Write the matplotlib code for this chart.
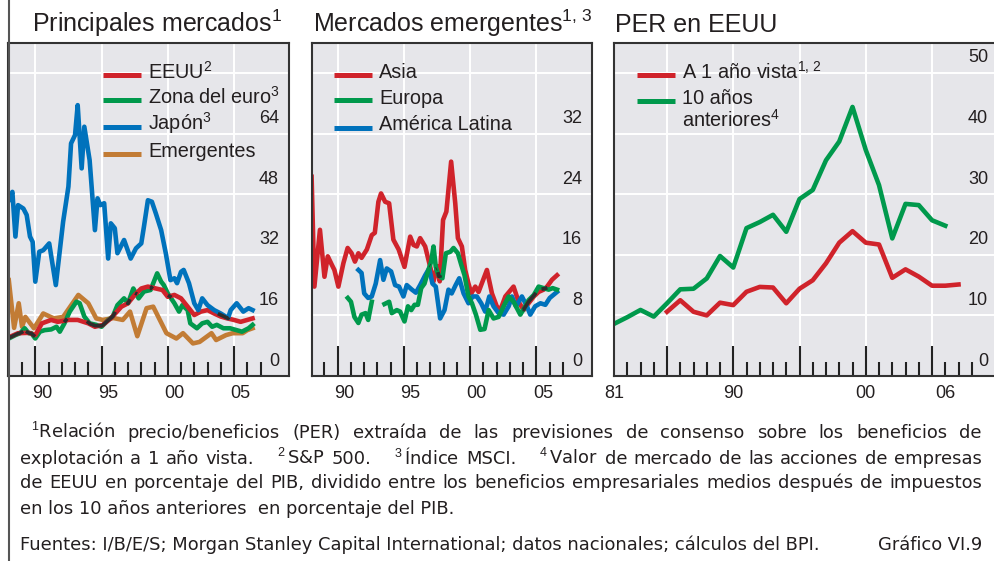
import numpy as np
import matplotlib
matplotlib.use("Agg")
import matplotlib.pyplot as plt
from matplotlib import transforms
from matplotlib.lines import Line2D

plt.rcParams.update({
    'font.family': ['Liberation Sans', 'DejaVu Sans'],
    'mathtext.fontset': 'custom',
    'mathtext.rm': 'Liberation Sans',
    'mathtext.it': 'Liberation Sans:italic',
    'mathtext.bf': 'Liberation Sans:bold',
    'mathtext.sf': 'Liberation Sans',
})

# ---------------- data ----------------
# Panel 1: Principales mercados
jp_years = [1988.0, 1988.27, 1988.5, 1988.7, 1989.1, 1989.35, 1989.6, 1989.8, 1990.0, 1990.3,
            1990.6, 1991.05, 1991.55, 1992.1, 1992.5, 1992.7, 1993.0, 1993.2, 1993.5, 1993.7,
            1994.1, 1994.5, 1994.7, 1994.9, 1995.2, 1995.5, 1995.7, 1996.0, 1996.2, 1996.7,
            1997.2, 1997.6, 1998.0, 1998.2, 1998.5, 1998.8, 1999.1, 1999.5, 1999.85, 2000.2,
            2000.5, 2000.7, 2001.0, 2001.2, 2001.6, 2002.0, 2002.3, 2002.6, 2003.0, 2003.5,
            2004.0, 2004.55, 2004.75, 2005.2, 2005.7, 2006.1, 2006.4]
jp_vals = [46.4, 48.6, 36.8, 45.1, 44.2, 42.5, 36.8, 35.4, 24.9, 32.8,
           33.2, 35.0, 24.0, 40.7, 50.0, 61.4, 63.6, 71.5, 54.8, 65.8,
           57.0, 38.5, 46.9, 45.1, 45.6, 31.0, 40.3, 39.0, 32.4, 35.9,
           31.0, 33.7, 35.0, 39.4, 46.4, 46.0, 42.9, 38.5, 32.4, 25.3,
           25.8, 24.5, 27.5, 28.0, 24.5, 19.2, 17.4, 20.5, 18.7, 17.4,
           16.5, 15.3, 17.4, 19.2, 17.0, 17.9, 17.4]

us_years = [1988.0, 1988.7, 1989.5, 1990.0, 1990.5, 1991.2, 1991.7, 1992.5, 1993.2, 1994.0,
            1994.5, 1995.1, 1995.7, 1996.5, 1997.0, 1997.5, 1998.0, 1998.5, 1999.1, 1999.6,
            2000.0, 2000.5, 2001.0, 2001.5, 2002.0, 2002.5, 2003.0, 2003.5, 2004.0, 2004.5,
            2005.0, 2005.5, 2006.0, 2006.4]
us_vals = [10.2, 11.3, 11.4, 10.8, 13.9, 14.8, 14.3, 14.8, 14.8, 13.9,
           13.0, 13.5, 15.2, 18.3, 19.2, 21.4, 23.1, 23.6, 23.1, 22.7,
           20.9, 21.4, 20.5, 18.3, 16.1, 17.0, 17.4, 16.5, 15.7, 15.2,
           14.8, 14.3, 14.8, 15.2]

eu_years = [1988.0, 1988.5, 1988.85, 1989.2, 1989.5, 1989.7, 1990.0, 1990.35, 1990.7, 1991.2,
            1991.6, 1991.85, 1992.2, 1992.6, 1993.1, 1993.35, 1993.7, 1994.1, 1994.6, 1995.0,
            1995.5, 1995.85, 1996.2, 1996.7, 1997.0, 1997.4, 1997.8, 1998.2, 1998.7, 1999.2,
            1999.5, 1999.7, 2000.0, 2000.5, 2000.85, 2001.1, 2001.5, 2001.7, 2002.2, 2002.6,
            2003.0, 2003.35, 2003.7, 2004.2, 2004.7, 2005.2, 2005.6, 2006.1, 2006.4]
eu_vals = [9.9, 10.8, 11.3, 12.6, 11.3, 11.3, 9.9, 11.7, 12.1, 12.3,
           13.0, 11.7, 13.9, 17.0, 19.6, 19.2, 15.7, 13.9, 13.5, 13.0,
           14.8, 15.7, 18.7, 20.5, 19.2, 23.1, 20.5, 22.3, 22.7, 27.1,
           24.9, 24.0, 21.8, 19.2, 17.0, 18.7, 17.4, 13.9, 12.6, 13.9,
           14.3, 13.0, 13.5, 12.6, 12.6, 12.1, 11.7, 12.6, 13.5]

em_years = [1988.0, 1988.4, 1988.75, 1989.0, 1989.25, 1989.9, 1990.6, 1991.4, 1992.1, 1993.25,
            1994.0, 1994.6, 1995.1, 1995.9, 1996.6, 1997.15, 1997.7, 1998.4, 1998.9, 1999.4,
            1999.9, 2000.65, 2001.15, 2001.9, 2002.4, 2003.3, 2003.65, 2004.4, 2004.9, 2005.65,
            2006.0, 2006.4]
em_vals = [25.3, 12.7, 19.2, 13.0, 15.6, 12.6, 16.5, 15.2, 15.6, 21.4,
           19.2, 15.2, 14.8, 15.3, 14.8, 17.0, 10.5, 17.9, 18.3, 14.8,
           11.3, 9.9, 11.3, 8.6, 9.0, 11.3, 9.5, 10.8, 11.3, 11.3,
           12.1, 12.6]

# Panel 2: Mercados emergentes
asia_years = [1988.03, 1988.24, 1988.66, 1989.0, 1989.25, 1989.55, 1989.75, 1990.05, 1990.43, 1990.75,
              1991.05, 1991.3, 1991.56, 1991.8, 1992.2, 1992.57, 1992.8, 1993.07, 1993.27, 1993.58,
              1993.88, 1994.2, 1994.6, 1995.04, 1995.47, 1995.72, 1995.97, 1996.22, 1996.6, 1996.98,
              1997.23, 1997.5, 1997.7, 1997.95, 1998.2, 1998.56, 1998.87, 1999.07, 1999.37, 1999.62,
              1999.87, 2000.08, 2000.38, 2000.63, 2001.26, 2001.64, 2002.0, 2002.27, 2002.65, 2003.27,
              2003.65, 2004.03, 2004.4, 2004.8, 2005.16, 2005.54, 2005.8, 2006.17, 2006.55]
asia_vals = [26.3, 11.8, 19.3, 13.1, 15.8, 14.7, 14.0, 11.8, 14.9, 16.9,
             16.2, 15.1, 16.2, 15.6, 16.7, 18.6, 18.9, 23.0, 24.1, 23.0,
             22.8, 18.0, 16.7, 14.4, 18.4, 17.3, 17.1, 18.2, 17.1, 14.4,
             12.5, 14.5, 12.5, 20.6, 21.7, 28.3, 22.8, 18.2, 17.1, 14.0,
             12.2, 10.9, 11.8, 11.1, 14.0, 10.9, 9.2, 8.7, 10.5, 11.8,
             9.8, 8.7, 9.6, 10.5, 11.1, 11.4, 11.8, 12.7, 13.3]

eur_years = [1990.76, 1991.0, 1991.26, 1991.56, 1991.8, 1992.1, 1992.3, 1992.57, 1993.0,
             1993.53, 1993.88, 1994.08, 1994.46, 1994.71, 1995.04, 1995.3, 1995.55, 1995.8, 1996.05,
             1996.3, 1996.55, 1996.85, 1997.05, 1997.23, 1997.4, 1997.6, 1997.9, 1998.16, 1998.5,
             1998.74, 1999.07, 1999.32, 1999.57, 1999.87, 2000.13, 2000.43, 2000.76, 2001.08, 2001.39,
             2001.76, 2002.14, 2002.52, 2002.9, 2003.27, 2003.78, 2004.15, 2004.4, 2004.8, 2005.16,
             2005.54, 2005.92, 2006.22, 2006.55]
eur_vals = [10.3, 9.8, 7.8, 7.0, 8.1, 8.3, 7.4, 9.8, np.nan,
            9.5, 9.8, 8.3, 8.7, 8.5, 7.2, 9.2, 8.7, 9.4, 9.4,
            11.6, 12.2, 14.0, 15.1, 17.1, 14.4, 13.3, 12.9, 16.2, 16.4,
            16.9, 16.2, 14.7, 13.3, 10.5, 9.6, 8.1, 6.1, 6.2, 8.7,
            7.6, 7.8, 9.2, 10.5, 9.8, 8.1, 9.2, 10.0, 10.7, 11.8,
            11.6, 11.4, 11.6, 11.4]

lat_years = [1991.56, 1991.8, 1992.0, 1992.3, 1992.57, 1992.87, 1993.2, 1993.45, 1993.7, 1994.03,
             1994.33, 1994.63, 1994.96, 1995.21, 1995.6, 1995.9, 1996.22, 1996.6, 1996.9, 1997.15,
             1997.4, 1997.73, 1998.06, 1998.36, 1998.6, 1998.9, 1999.17, 1999.5, 1999.87, 2000.18,
             2000.5, 2000.83, 2001.13, 2001.44, 2001.76, 2002.14, 2002.52, 2002.9, 2003.15, 2003.45,
             2003.9, 2004.28, 2004.53, 2004.9, 2005.3, 2005.67, 2006.0, 2006.55]
lat_vals = [14.0, 13.6, 10.9, 10.3, 10.5, 12.2, 15.3, 12.7, 14.2, 13.8,
            12.0, 11.8, 10.5, 12.0, 11.4, 11.0, 12.0, 13.3, 14.2, 12.2,
            11.8, 7.6, 8.7, 11.4, 10.9, 12.0, 12.9, 10.9, 9.6, 10.5,
            10.5, 9.6, 8.5, 10.5, 9.2, 8.3, 8.1, 9.2, 10.5, 9.2,
            10.5, 9.2, 8.1, 9.2, 9.6, 9.4, 10.3, 11.1]

# Panel 3: PER en EEUU (annual)
per10_years = list(range(1981, 2007))
per10_vals = [8.6, 9.7, 10.9, 9.8, 12.0, 14.3, 14.4, 16.1, 19.8, 17.9,
              24.4, 25.4, 26.6, 23.8, 29.2, 30.7, 35.6, 38.7, 44.4, 37.3,
              31.5, 22.7, 28.4, 28.2, 25.7, 24.8]
per1_years = list(range(1985, 2008))
per1_vals = [10.6, 12.5, 10.6, 10.0, 12.1, 11.7, 13.9, 14.7, 14.6, 12.0,
             14.4, 15.8, 18.6, 22.0, 23.9, 22.0, 21.7, 16.2, 17.6, 16.4,
             14.9, 14.9, 15.1]

# tick labels
p1_yticks = [0, 16, 32, 48, 64]
p2_yticks = [0, 8, 16, 24, 32]
p3_yticks = [0, 10, 20, 30, 40, 50]
p12_xlabels = ['90', '95', '00', '05']
p3_xlabels = ['81', '90', '00', '06']

# ---------------- style ----------------
W, H = 994, 561
BG = '#e6e6ea'
TXT = '#231f20'
RED = '#d0232b'
GREEN = '#00994c'
BLUE = '#0072bc'
ORANGE = '#c27c35'
DARK = '#2d2d2d'
LW = 3.3

fig = plt.figure(figsize=(W / 100, H / 100), dpi=100)


def rect(l, r, t, b):
    return [l / W, 1 - b / H, (r - l) / W, (b - t) / H]


def setup(ax, xlim, ylim, ygrid, xmaj, xmin):
    ax.set_facecolor(BG)
    ax.set_xlim(*xlim)
    ax.set_ylim(*ylim)
    ax.set_xticks(xmaj)
    ax.set_xticks(xmin, minor=True)
    ax.set_yticks(ygrid)
    ax.tick_params(axis='x', which='major', direction='in', length=21.5, width=1.5,
                   color='#222222', labelbottom=False)
    ax.tick_params(axis='x', which='minor', direction='in', length=10, width=1.5,
                   color='#222222', labelbottom=False)
    ax.tick_params(axis='y', length=0, labelleft=False)
    ax.grid(True, which='major', color='white', lw=1.4)
    ax.set_axisbelow(True)
    for s in ax.spines.values():
        s.set_color('#333333')
        s.set_linewidth(1.5)


def ylabels(ax, vals):
    tr = transforms.offset_copy(ax.get_yaxis_transform(), fig=fig, x=-10, y=15, units='dots')
    for v in vals:
        ax.text(1, v, str(v), transform=tr, ha='right', va='center', fontsize=13, color=TXT)


def xlabels(ax, pos, labs):
    tr = transforms.offset_copy(ax.get_xaxis_transform(), fig=fig, x=0, y=-17, units='dots')
    for p, l in zip(pos, labs):
        ax.text(p, 0, l, transform=tr, ha='center', va='center', fontsize=13, color=TXT)


def legend(entries, x0, x1, xt, ys, yb):
    for (lab, col), y, b in zip(entries, ys, yb):
        if col is not None:
            fig.add_artist(Line2D([x0 / W, x1 / W], [1 - y / H] * 2, color=col, lw=3.6,
                                  solid_capstyle='butt', transform=fig.transFigure))
        fig.text(xt / W, 1 - b / H, lab, ha='left', va='baseline', fontsize=14.3, color=TXT)


def overlaps(ax, series, ppu, thr=3.2):
    """Dark tint where two coloured lines lie on top of each other (as in the print)."""
    for i in range(len(series)):
        for j in range(i + 1, len(series)):
            xa, ya = np.asarray(series[i][0], float), np.asarray(series[i][1], float)
            xb, yb = np.asarray(series[j][0], float), np.asarray(series[j][1], float)
            lo, hi = max(xa.min(), xb.min()), min(xa.max(), xb.max())
            if hi <= lo:
                continue
            g = np.arange(lo, hi, 0.01)
            a = np.interp(g, xa, ya)
            b = np.interp(g, xb, yb)
            m = np.abs(a - b) * ppu < thr
            ax.plot(g, np.where(m, (a + b) / 2, np.nan), color=DARK, lw=LW * 0.8,
                    solid_capstyle='butt', zorder=3)


# ---- Panel 1
ax1 = fig.add_axes(rect(8, 289, 43, 376))
setup(ax1, (1987.94, 2009.15), (0, 87.9), [16, 32, 48, 64, 80],
      [1990, 1995, 2000, 2005], [y for y in range(1989, 2008) if y % 5])
ax1.plot(em_years, em_vals, color=ORANGE, lw=LW)
ax1.plot(eu_years, eu_vals, color=GREEN, lw=LW)
ax1.plot(us_years, us_vals, color=RED, lw=LW)
ax1.plot(jp_years, jp_vals, color=BLUE, lw=LW)
overlaps(ax1, [(us_years, us_vals), (eu_years, eu_vals), (jp_years, jp_vals)], 333 / 87.9)
ylabels(ax1, p1_yticks)
xlabels(ax1, [1990.5, 1995.5, 2000.5, 2005.5], p12_xlabels)

# ---- Panel 2
ax2 = fig.add_axes(rect(312, 592, 43, 376))
setup(ax2, (1988.06, 2009.19), (0, 43.96), [8, 16, 24, 32, 40],
      [1990, 1995, 2000, 2005], [y for y in range(1989, 2008) if y % 5])
ax2.plot(asia_years, asia_vals, color=RED, lw=LW)
ax2.plot(lat_years, lat_vals, color=BLUE, lw=LW)
ax2.plot(eur_years, eur_vals, color=GREEN, lw=LW)
overlaps(ax2, [(asia_years, asia_vals), (eur_years, eur_vals)], 333 / 43.96)
ylabels(ax2, p2_yticks)
xlabels(ax2, [1990.5, 1995.5, 2000.5, 2005.5], p12_xlabels)

# ---- Panel 3
ax3 = fig.add_axes(rect(614, 998, 43, 376))
setup(ax3, (1981.0, 2009.98), (0, 54.95), [10, 20, 30, 40, 50],
      [1985, 1990, 1995, 2000, 2005], [y for y in range(1982, 2009) if y % 5])
ax3.plot(per10_years, per10_vals, color=GREEN, lw=LW)
ax3.plot(per1_years, per1_vals, color=RED, lw=LW)
ylabels(ax3, p3_yticks)
xlabels(ax3, [1981, 1990, 2000, 2006], p3_xlabels)

# ---- Titles
fig.text(32 / W, 1 - 32 / H, 'Principales mercados$^{1}$', fontsize=18, color=TXT, va='baseline')
fig.text(313 / W, 1 - 32 / H, 'Mercados emergentes$^{1,\\,3}$', fontsize=18, color=TXT, va='baseline')
fig.text(615 / W, 1 - 32 / H, 'PER en EEUU', fontsize=18, color=TXT, va='baseline')

# ---- Legends
legend([('EEUU$^{2}$', RED), ('Zona del euro$^{3}$', GREEN), ('Japón$^{3}$', BLUE),
        ('Emergentes', ORANGE)], 103, 141, 148, [75.2, 100.2, 126.8, 154.2],
       [78.5, 103.5, 130, 157.3])
legend([('Asia', RED), ('Europa', GREEN), ('América Latina', BLUE)], 334, 372, 379,
       [75.2, 100.2, 127.5], [78.5, 103.5, 130.5])
legend([('A 1 año vista$^{1,\\,2}$', RED), ('10 años', GREEN), ('anteriores$^{4}$', None)],
       637, 675, 682, [75.2, 100.7, 0], [78.5, 104, 126.7])

# ---- Frame line
fig.add_artist(Line2D([8.5 / W, 8.5 / W], [0, 1], color='#555555', lw=1.5,
                      transform=fig.transFigure))

# ---- Footnotes
renderer = fig.canvas.get_renderer()
FS = 12.9
FFAM = ['DejaVu Sans']


def justify(tokens, weights, x0, x1, yb):
    texts = [fig.text(0, 1 - yb / H, t, fontsize=FS, family=FFAM, color=TXT,
                      va='baseline', ha='left') for t in tokens]
    widths = [t.get_window_extent(renderer).width for t in texts]
    unit = ((x1 - x0) - sum(widths)) / sum(weights)
    x = x0
    for i, (t, w) in enumerate(zip(texts, widths)):
        t.set_x(x / W)
        x += w
        if i < len(weights):
            x += weights[i] * unit


l1 = ['$^{1}$Relación', 'precio/beneficios', '(PER)', 'extraída', 'de', 'las', 'previsiones',
      'de', 'consenso', 'sobre', 'los', 'beneficios', 'de']
justify(l1, [1] * (len(l1) - 1), 31, 982, 438.5)

l2 = ['explotación', 'a', '1', 'año', 'vista.', '$^{2}\\,$S&P', '500.', '$^{3}\\,$Índice',
      'MSCI.', '$^{4}\\,$Valor', 'de', 'mercado', 'de', 'las', 'acciones', 'de', 'empresas']
w2 = [1, 1, 1, 1, 3.5, 1, 3.5, 1, 3.5, 1, 1, 1, 1, 1, 1, 1]
justify(l2, w2, 20, 982, 463.5)

l3 = ['de', 'EEUU', 'en', 'porcentaje', 'del', 'PIB,', 'dividido', 'entre', 'los', 'beneficios',
      'empresariales', 'medios', 'después', 'de', 'impuestos']
justify(l3, [1] * (len(l3) - 1), 20, 982, 488.5)

fig.text(20 / W, 1 - 513.5 / H, 'en los 10 años anteriores  en porcentaje del PIB.',
         fontsize=FS, family=FFAM, color=TXT, va='baseline')
fig.text(20 / W, 1 - 550 / H,
         'Fuentes: I/B/E/S; Morgan Stanley Capital International; datos nacionales; cálculos del BPI.',
         fontsize=FS, family=FFAM, color=TXT, va='baseline')
fig.text(982 / W, 1 - 550 / H, 'Gráfico VI.9', fontsize=FS, family=FFAM, color=TXT,
         va='baseline', ha='right')

fig.savefig('out.png', dpi=100)
